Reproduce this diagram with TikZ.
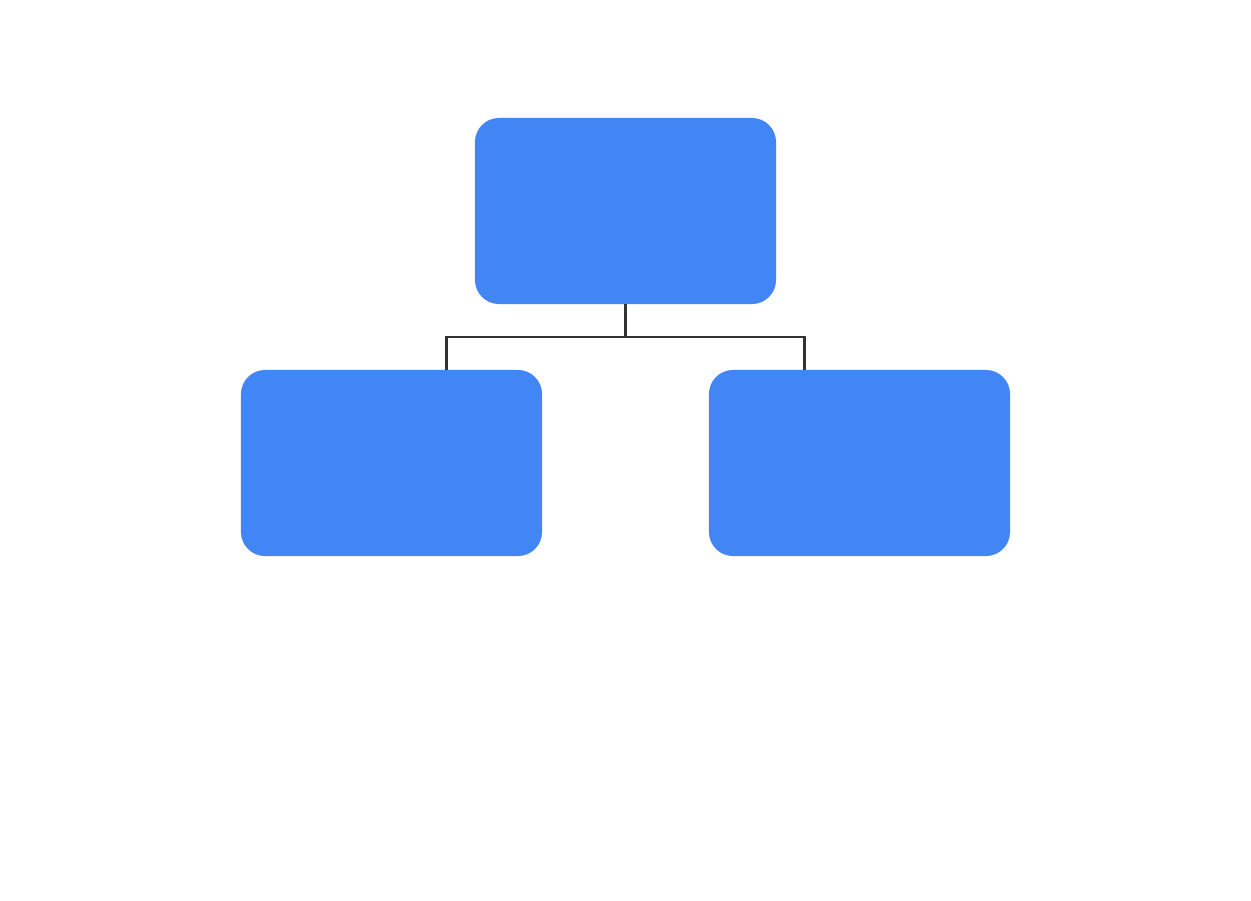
\documentclass[tikz,border=0pt]{standalone}
\usetikzlibrary{positioning}
\definecolor{boxblue}{HTML}{4285F4}
\definecolor{wiregray}{HTML}{333333}
\tikzset{
	block/.style={fill=boxblue, draw=none, rounded corners=0.6cm, minimum width=7.525cm, minimum height=4.65cm, inner sep=0pt},
	wire/.style={draw=wiregray, line width=1.8pt}
}
\begin{document}
\begin{tikzpicture}[x=0.025cm, y=-0.025cm]
		\useasboundingbox[fill=white] (0,0) rectangle (1251,901);
		
		\node [block] (top) at (625.5,211) {};
		\node [block] (left) at (391.5,463) {};
		\node [block] (right) at (859.5,463) {};
		
		\coordinate (tj) at (625.5,337);
		\coordinate (jl) at (446.5,337);
		\coordinate (jr) at (804.5,337);
		
		\draw[wire] (top.south) -- (tj);
		\draw[wire] (jl |- left.north) -- (jl) -- (jr) -- (jr |- right.north);
		\end{tikzpicture}
\end{document}
